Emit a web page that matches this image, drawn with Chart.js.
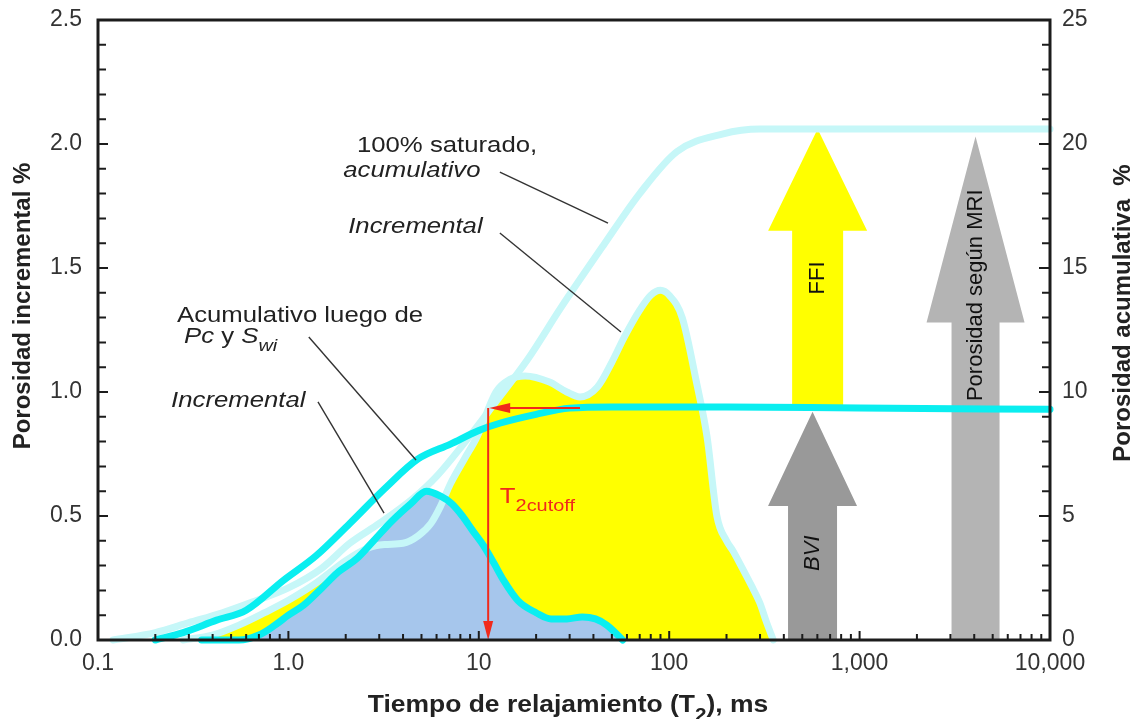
<!DOCTYPE html>
<html>
<head>
<meta charset="utf-8">
<title>Tiempo de relajamiento T2</title>
<script src="https://cdn.jsdelivr.net/npm/chart.js@4.4.1/dist/chart.umd.min.js"></script>
<style>
    html, body { margin: 0; padding: 0; background: #fff; }
</style>
</head>
<body>
<canvas id="myDiagram" width="1137" height="719"></canvas>
<script>
// 100% saturado, incremental (eje izquierdo)
const satIncT = [0.28, 0.4, 0.55, 0.75, 1.0, 1.4, 2.0, 2.6, 3.2, 4.0, 4.8, 5.6, 6.3, 7.1, 8.4, 9.8, 12.3, 14.5, 17.5, 23.5,
    29, 34, 42, 50, 58, 70, 80, 90, 100, 117, 139, 158, 178, 200, 216, 242, 270, 299, 325, 352];
const satIncV = [0, 0.02, 0.06, 0.11, 0.16, 0.23, 0.32, 0.37, 0.385, 0.39, 0.42, 0.47, 0.54, 0.63, 0.73, 0.82, 1.0, 1.05, 1.065, 1.04,
    1.0, 0.98, 1.02, 1.12, 1.22, 1.33, 1.39, 1.41, 1.39, 1.30, 1.04, 0.82, 0.5, 0.4, 0.36, 0.29, 0.22, 0.15, 0.07, 0];

// 100% saturado, acumulativo (eje derecho)
const satCumT = [0.12, 0.2, 0.3, 0.45, 0.63, 1.0, 1.5, 2.1, 3.0, 4.5, 6.0, 8.5, 12, 18, 27, 45, 70, 110, 190, 300, 10000];
const satCumV = [0, 0.3, 0.7, 1.1, 1.5, 2.1, 2.9, 3.9, 4.7, 5.7, 6.6, 8.0, 9.5, 11.3, 13.4, 15.9, 18.0, 19.7, 20.4, 20.6, 20.6];

// luego de Pc y Swi, incremental (eje izquierdo)
const pcIncT = [0.35, 0.55, 0.7, 0.85, 1.0, 1.2, 1.5, 1.8, 2.3, 2.8, 3.5, 4.4, 5.3, 6.3, 7.2, 8.2, 9.3, 10.6, 12, 13.5, 16,
    20, 24, 29, 35, 41, 47, 52, 57];
const pcIncV = [0, 0, 0.02, 0.06, 0.1, 0.14, 0.21, 0.27, 0.33, 0.4, 0.48, 0.55, 0.6, 0.58, 0.55, 0.5, 0.44, 0.38, 0.31, 0.24, 0.16,
    0.11, 0.085, 0.085, 0.093, 0.085, 0.06, 0.03, 0];

// luego de Pc y Swi, acumulativo (eje derecho)
const pcCumT = [0.2, 0.28, 0.42, 0.6, 0.94, 1.4, 2.1, 3.2, 4.8, 7.1, 10, 13, 20, 30, 50, 200, 1000, 10000];
const pcCumV = [0, 0.3, 0.8, 1.2, 2.4, 3.4, 4.7, 6.1, 7.3, 7.9, 8.45, 8.75, 9.1, 9.35, 9.4, 9.4, 9.35, 9.3];

const xTickValues = [0.1, 1, 10, 100, 1000, 10000];
const xTickLabels = ['0.1', '1.0', '10', '100', '1,000', '10,000'];

const t2Cutoff = 11.2;     // ms
const cutoffLevel = 0.935; // eje izquierdo
const cutoffEndT = 34;

const bviLevel = 9.2;
const ffiTop = 20.6;
const mriTop = 20.3;

const FONT = '"Liberation Sans", Arial, sans-serif';
const STRETCH = 1.17;
const CYAN = '#0aeef0';
const LIGHT_CYAN = '#c6f7f8';

function toPoints(xs, ys) {
    return xs.map((x, i) => ({x: x, y: ys[i]}));
}

// texto con partes en cursiva / subíndice
function drawRuns(ctx, parts, x, y, size, opts) {
    opts = opts || {};
    const stretch = opts.stretch || STRETCH;
    const fontOf = p => (p.italic ? 'italic ' : '') + (opts.bold ? 'bold ' : '') +
        (p.sub ? Math.round(size * 0.78) : size) + 'px ' + FONT;
    ctx.save();
    let total = 0;
    parts.forEach(p => {
        ctx.font = fontOf(p);
        total += ctx.measureText(p.t).width;
    });
    ctx.translate(x, y);
    ctx.scale(stretch, 1);
    let cx = 0;
    if (opts.align === 'center') cx = -total / 2;
    ctx.fillStyle = opts.color || '#222';
    ctx.textBaseline = 'alphabetic';
    ctx.textAlign = 'left';
    parts.forEach(p => {
        ctx.font = fontOf(p);
        ctx.fillText(p.t, cx, p.sub ? size * 0.38 : 0);
        cx += ctx.measureText(p.t).width;
    });
    ctx.restore();
}

function drawRotated(ctx, str, x, y, font, color) {
    ctx.save();
    ctx.translate(x, y);
    ctx.rotate(-Math.PI / 2);
    ctx.font = font;
    ctx.fillStyle = color;
    ctx.textAlign = 'center';
    ctx.textBaseline = 'middle';
    ctx.fillText(str, 0, 0);
    ctx.restore();
}

const arrows = [
    {t: 602, from: bviLevel + 0.2, neck: 16.5, to: ffiTop, shaft: 51, head: 99, color: '#ffff00',
        text: 'FFI', textAt: 14.6, font: '22px ' + FONT},
    {t: 566, from: 0, neck: 5.4, to: bviLevel, shaft: 49, head: 89, color: '#999999',
        text: 'BVI', textAt: 3.5, font: 'italic 22px ' + FONT},
    {t: 4064, from: 0, neck: 12.8, to: mriTop, shaft: 48, head: 98, color: '#b4b4b4',
        text: 'Porosidad según MRI', textAt: 13.9, font: '22px ' + FONT}
];

const notes = [
    {parts: [{t: '100% saturado,'}], t: 2.29, v: 1.968},
    {parts: [{t: 'acumulativo', italic: true}], t: 1.94, v: 1.867},
    {parts: [{t: 'Incremental', italic: true}], t: 2.06, v: 1.641},
    {parts: [{t: 'Acumulativo luego de'}], t: 0.26, v: 1.282},
    {parts: [{t: 'Pc', italic: true}, {t: ' y '}, {t: 'S', italic: true}, {t: 'wi', italic: true, sub: true}], t: 0.283, v: 1.198},
    {parts: [{t: 'Incremental', italic: true}], t: 0.242, v: 0.940}
];

const leaders = [
    [12.9, 1.887, 47.7, 1.681],
    [12.9, 1.641, 55.8, 1.242],
    [1.28, 1.222, 4.68, 0.726],
    [1.43, 0.960, 3.18, 0.512]
];

const overlay = {
    id: 'overlay',
    beforeDatasetsDraw(chart) {
        const ctx = chart.ctx;
        const xs = chart.scales.x, yr = chart.scales.y2;
        arrows.forEach(a => {
            const x = xs.getPixelForValue(a.t);
            const yb = yr.getPixelForValue(a.from);
            const yn = yr.getPixelForValue(a.neck);
            const yt = yr.getPixelForValue(a.to);
            ctx.save();
            ctx.fillStyle = a.color;
            ctx.beginPath();
            ctx.moveTo(x - a.shaft / 2, yb);
            ctx.lineTo(x - a.shaft / 2, yn);
            ctx.lineTo(x - a.head / 2, yn);
            ctx.lineTo(x, yt);
            ctx.lineTo(x + a.head / 2, yn);
            ctx.lineTo(x + a.shaft / 2, yn);
            ctx.lineTo(x + a.shaft / 2, yb);
            ctx.closePath();
            ctx.fill();
            ctx.restore();
            drawRotated(ctx, a.text, x, yr.getPixelForValue(a.textAt), a.font, '#111');
        });
    },
    afterDatasetsDraw(chart) {
        const ctx = chart.ctx;
        const area = chart.chartArea;
        const xs = chart.scales.x, yl = chart.scales.y, yr = chart.scales.y2;

        // T2 cutoff
        const x0 = xs.getPixelForValue(t2Cutoff);
        const x1 = xs.getPixelForValue(cutoffEndT);
        const yc = yl.getPixelForValue(cutoffLevel);
        const y0 = yl.getPixelForValue(0);
        ctx.save();
        ctx.strokeStyle = '#f02a1c';
        ctx.fillStyle = '#f02a1c';
        ctx.lineWidth = 2;
        ctx.beginPath();
        ctx.moveTo(x0, yc);
        ctx.lineTo(x0, y0 - 14);
        ctx.moveTo(x1, yc);
        ctx.lineTo(x0 + 16, yc);
        ctx.stroke();
        ctx.beginPath();
        ctx.moveTo(x0, y0);
        ctx.lineTo(x0 - 5, y0 - 19);
        ctx.lineTo(x0 + 5, y0 - 19);
        ctx.closePath();
        ctx.fill();
        ctx.beginPath();
        ctx.moveTo(x0 + 1, yc);
        ctx.lineTo(x0 + 22, yc - 5);
        ctx.lineTo(x0 + 22, yc + 5);
        ctx.closePath();
        ctx.fill();
        ctx.restore();
        drawRuns(ctx, [{t: 'T'}, {t: '2cutoff', sub: true}], xs.getPixelForValue(12.9), yl.getPixelForValue(0.552), 22,
            {color: '#f02a1c'});

        // textos y líneas guía
        notes.forEach(n => {
            drawRuns(ctx, n.parts, xs.getPixelForValue(n.t), yl.getPixelForValue(n.v), 22);
        });
        ctx.save();
        ctx.strokeStyle = '#333';
        ctx.lineWidth = 1.4;
        leaders.forEach(l => {
            ctx.beginPath();
            ctx.moveTo(xs.getPixelForValue(l[0]), yl.getPixelForValue(l[1]));
            ctx.lineTo(xs.getPixelForValue(l[2]), yl.getPixelForValue(l[3]));
            ctx.stroke();
        });
        ctx.restore();

        // marco y marcas interiores
        ctx.save();
        ctx.strokeStyle = '#1c1c1c';
        ctx.lineWidth = 2;
        ctx.beginPath();
        for (let i = 0; i <= 25; i++) {
            const y = yl.getPixelForValue(i / 10);
            ctx.moveTo(area.left, y);
            ctx.lineTo(area.left + (i % 5 === 0 ? 10 : 8), y);
        }
        for (let i = 0; i <= 25; i++) {
            const y = yr.getPixelForValue(i);
            ctx.moveTo(area.right, y);
            ctx.lineTo(area.right - (i % 5 === 0 ? 11 : 8), y);
        }
        xTickValues.forEach((d, j) => {
            const x = xs.getPixelForValue(d);
            ctx.moveTo(x, area.bottom);
            ctx.lineTo(x, area.bottom - 9);
            if (j < xTickValues.length - 1) {
                for (let k = 2; k <= 9; k++) {
                    const xm = xs.getPixelForValue(d * k);
                    ctx.moveTo(xm, area.bottom);
                    ctx.lineTo(xm, area.bottom - 6);
                }
            }
        });
        ctx.stroke();
        ctx.lineWidth = 3;
        ctx.strokeRect(area.left, area.top, area.right - area.left, area.bottom - area.top);
        ctx.restore();

        // títulos de ejes
        drawRotated(ctx, 'Porosidad incremental %', 23, (area.top + area.bottom) / 2 - 24, 'bold 24px ' + FONT, '#222');
        drawRotated(ctx, 'Porosidad acumulativa\u00a0\u00a0%', 1123, (area.top + area.bottom) / 2 - 17, 'bold 24px ' + FONT, '#222');
        drawRuns(ctx, [{t: 'Tiempo de relajamiento (T'}, {t: '2', sub: true}, {t: '), ms'}],
            (area.left + area.right) / 2 - 6, 712, 23, {bold: true, align: 'center', stretch: 1.15});
    }
};

const tickFont = {family: FONT, size: 23};

new Chart(document.getElementById('myDiagram'), {
    type: 'line',
    data: {
        datasets: [
            {
                label: 'Acumulativo luego de Pc y Swi',
                data: toPoints(pcCumT, pcCumV),
                yAxisID: 'y2',
                borderColor: CYAN,
                borderWidth: 7,
                fill: false
            },
            {
                label: 'Incremental luego de Pc y Swi',
                data: toPoints(pcIncT, pcIncV),
                yAxisID: 'y',
                borderColor: CYAN,
                borderWidth: 7,
                fill: false
            },
            {
                label: '100% saturado, acumulativo',
                data: toPoints(satCumT, satCumV),
                yAxisID: 'y2',
                borderColor: LIGHT_CYAN,
                borderWidth: 7,
                fill: false
            },
            {
                label: '100% saturado, incremental',
                data: toPoints(satIncT, satIncV),
                yAxisID: 'y',
                borderColor: LIGHT_CYAN,
                borderWidth: 7,
                fill: false
            },
            {
                label: 'BVI área',
                data: toPoints(pcIncT, pcIncV),
                yAxisID: 'y',
                borderWidth: 0,
                backgroundColor: '#a6c6ec',
                fill: 'origin'
            },
            {
                label: 'FFI área',
                data: toPoints(satIncT, satIncV),
                yAxisID: 'y',
                borderWidth: 0,
                backgroundColor: '#ffff00',
                fill: 'origin'
            }
        ]
    },
    options: {
        responsive: false,
        animation: false,
        clip: false,
        layout: {padding: {top: 20, left: 0, right: 0, bottom: 0}},
        elements: {
            point: {radius: 0},
            line: {cubicInterpolationMode: 'monotone', borderCapStyle: 'round', borderJoinStyle: 'round'}
        },
        plugins: {
            legend: {display: false},
            tooltip: {enabled: false}
        },
        scales: {
            x: {
                type: 'logarithmic',
                min: 0.1,
                max: 10000,
                grid: {display: false, drawTicks: false},
                border: {display: false},
                afterBuildTicks: scale => {
                    scale.ticks = xTickValues.map(v => ({value: v}));
                },
                afterFit: scale => {
                    scale.height = 79;
                    scale.paddingLeft = 0;
                    scale.paddingRight = 0;
                },
                ticks: {
                    autoSkip: false,
                    maxRotation: 0,
                    padding: 10,
                    color: '#333',
                    font: tickFont,
                    callback: value => {
                        const i = xTickValues.indexOf(value);
                        return i >= 0 ? xTickLabels[i] : '';
                    }
                }
            },
            y: {
                position: 'left',
                min: 0,
                max: 2.5,
                grid: {display: false, drawTicks: false},
                border: {display: false},
                afterFit: scale => {
                    scale.width = 98;
                    scale.paddingTop = 0;
                    scale.paddingBottom = 0;
                },
                ticks: {
                    stepSize: 0.5,
                    padding: 16,
                    color: '#333',
                    font: tickFont,
                    callback: value => value.toFixed(1)
                }
            },
            y2: {
                position: 'right',
                min: 0,
                max: 25,
                grid: {display: false, drawTicks: false},
                border: {display: false},
                afterFit: scale => {
                    scale.width = 87;
                    scale.paddingTop = 0;
                    scale.paddingBottom = 0;
                },
                ticks: {
                    stepSize: 5,
                    padding: 12,
                    color: '#333',
                    font: tickFont
                }
            }
        }
    },
    plugins: [overlay]
});
</script>
</body>
</html>
